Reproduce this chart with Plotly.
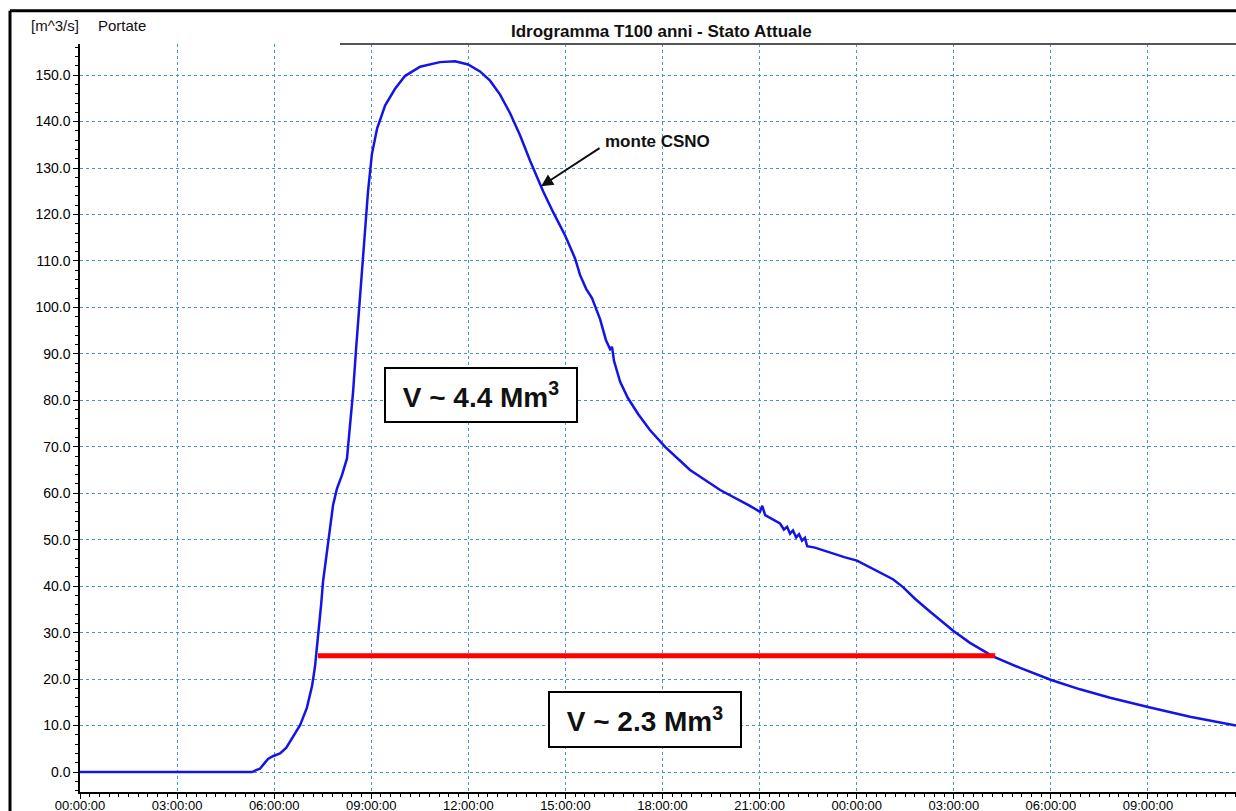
import plotly.graph_objects as go
import pandas as pd

# ---- data (hours since start, discharge m^3/s) ----
hours = [0.00, 5.32, 5.44, 5.56, 5.69, 5.81, 5.96, 6.18, 6.37, 6.55, 6.80, 7.01, 7.17, 7.26,
         7.32, 7.39, 7.45, 7.51, 7.60, 7.70, 7.82, 7.94, 8.10, 8.25, 8.34, 8.44, 8.53, 8.65,
         8.78, 8.90, 9.02, 9.18, 9.43, 9.73, 10.04, 10.51, 11.12, 11.59, 11.99, 12.36, 12.67,
         12.98, 13.29, 13.60, 13.91, 14.31, 14.62, 14.99, 15.30, 15.45, 15.64, 15.82, 16.07,
         16.25, 16.38, 16.44, 16.50, 16.69, 16.93, 17.25, 17.61, 18.08, 18.85, 19.78, 20.70,
         21.01, 21.08, 21.17, 21.63, 21.75, 21.85, 21.94, 22.03, 22.13, 22.22, 22.31, 22.40,
         22.47, 22.71, 23.18, 23.64, 24.01, 24.35, 24.72, 25.12, 25.43, 25.80, 26.27, 26.98,
         27.50, 28.21, 29.05, 30.01, 30.90, 31.83, 33.00, 34.30, 35.72]
flow = [0.0, 0.0, 0.4, 0.7, 1.8, 2.8, 3.4, 4.0, 5.2, 7.2, 10.1, 13.8, 18.5, 22.6,
        26.5, 31.0, 36.0, 41.0, 46.0, 51.0, 57.5, 61.0, 64.0, 67.5, 74.0, 82.0, 91.0, 102.0,
        114.0, 125.0, 133.0, 138.5, 143.5, 147.0, 149.8, 151.8, 152.8, 153.0, 152.3, 150.8, 148.8,
        145.8, 141.8, 137.0, 131.5, 125.0, 120.5, 115.5, 110.5, 107.0, 104.0, 102.0, 97.5,
        93.0, 91.0, 91.5, 88.5, 84.0, 80.5, 77.0, 73.6, 70.0, 65.0, 60.7, 57.3,
        56.0, 57.3, 55.3, 53.5, 52.2, 52.8, 51.3, 52.0, 50.5, 51.2, 49.8, 50.4,
        48.6, 48.3, 47.2, 46.2, 45.5, 44.3, 43.0, 41.5, 39.8, 37.3, 34.5, 30.4,
        27.8, 24.9, 22.4, 19.8, 17.8, 16.0, 14.0, 11.9, 10.0]

threshold_hours = [7.35, 28.28]
threshold_flow = [25.0, 25.0]

BASE = pd.Timestamp("2000-01-01 00:00:00")


def to_time(hs):
    return [(BASE + pd.Timedelta(hours=h)).strftime("%Y-%m-%d %H:%M:%S") for h in hs]


FONT = "Liberation Sans, Arial, sans-serif"

fig = go.Figure()
fig.add_trace(go.Scatter(x=to_time(hours), y=flow, mode="lines",
                         line=dict(color="#1414e6", width=2.5), showlegend=False,
                         hoverinfo="skip"))
fig.add_trace(go.Scatter(x=to_time(threshold_hours), y=threshold_flow, mode="lines",
                         line=dict(color="#ff0000", width=5), showlegend=False,
                         hoverinfo="skip"))

grid_col = "#4a90dc"
fig.update_xaxes(
    type="date",
    range=to_time([0, 35.72]),
    tickformat="%H:%M:%S",
    tick0=to_time([0])[0],
    dtick=3 * 3600 * 1000,
    showgrid=True, gridcolor=grid_col, griddash="dot", gridwidth=1,
    showline=True, linecolor="black", linewidth=1.5,
    ticks="outside", ticklen=5, tickcolor="black", tickwidth=1,
    ticklabelstandoff=-4,
    minor=dict(dtick=18 * 60 * 1000, ticks="outside", ticklen=3, tickcolor="black",
               showgrid=False),
    tickfont=dict(family=FONT, size=13, color="#000000"),
    zeroline=False, automargin=False,
)
fig.update_yaxes(
    range=[-4.3, 156.7],
    tick0=0, dtick=10, tickformat=".1f",
    showgrid=True, gridcolor=grid_col, griddash="dot", gridwidth=1,
    showline=True, linecolor="black", linewidth=1.5,
    ticks="outside", ticklen=5, tickcolor="black", tickwidth=1,
    minor=dict(dtick=2, ticks="outside", ticklen=3, tickcolor="black", showgrid=False),
    tickfont=dict(family=FONT, size=14, color="#000000"),
    zeroline=False, automargin=False,
)

W, H = 1236, 811
L, R, T, B = 80, 0, 44, 19
PW, PH = W - L - R, H - T - B


def px(xp):
    return (xp - L) / PW


def py(yp):
    return (H - B - yp) / PH


annotations = [
    dict(text="<b>Idrogramma T100 anni - Stato Attuale</b>", x=px(661), y=py(31),
         xref="paper", yref="paper", showarrow=False, xanchor="center", yanchor="middle",
         font=dict(family=FONT, size=17, color="#111111")),
    dict(text="[m^3/s]", x=px(29), y=py(26), xref="paper", yref="paper", showarrow=False,
         xanchor="left", yanchor="middle", font=dict(family=FONT, size=15, color="#111111")),
    dict(text="Portate", x=px(96), y=py(26), xref="paper", yref="paper", showarrow=False,
         xanchor="left", yanchor="middle", font=dict(family=FONT, size=15, color="#111111")),
    dict(text="<b>monte CSNO</b>", x=to_time([16.16])[0], y=135.8, xref="x", yref="y",
         showarrow=False, xanchor="left", yanchor="middle",
         font=dict(family=FONT, size=17, color="#111111")),
    dict(text="", x=to_time([14.25])[0], y=126.1, xref="x", yref="y",
         ax=to_time([16.10])[0], ay=134.5, axref="x", ayref="y",
         showarrow=True, arrowhead=2, arrowsize=1.2, arrowwidth=2, arrowcolor="#111111"),
    dict(text="<b>V ~ 4.4 Mm<sup>3</sup></b>", x=to_time([12.39])[0], y=81.1, xref="x",
         yref="y", showarrow=False, xanchor="center", yanchor="middle",
         font=dict(family=FONT, size=28, color="#111111"),
         bgcolor="white", bordercolor="black", borderwidth=2, borderpad=2,
         width=186, height=48),
    dict(text="<b>V ~ 2.3 Mm<sup>3</sup></b>", x=to_time([17.46])[0], y=11.2, xref="x",
         yref="y", showarrow=False, xanchor="center", yanchor="middle",
         font=dict(family=FONT, size=28, color="#111111"),
         bgcolor="white", bordercolor="black", borderwidth=2, borderpad=2,
         width=186, height=49),
]

shapes = [
    # outer frame
    dict(type="line", xref="paper", yref="paper", x0=px(10), x1=px(1240), y0=py(10.7),
         y1=py(10.7), line=dict(color="black", width=3)),
    dict(type="line", xref="paper", yref="paper", x0=px(10), x1=px(10), y0=py(10.7),
         y1=py(815), line=dict(color="black", width=3)),
    # title separator
    dict(type="line", xref="paper", yref="paper", x0=px(340), x1=px(1240), y0=py(44),
         y1=py(44), line=dict(color="#555555", width=2)),
]

fig.update_layout(
    width=W, height=H,
    margin=dict(l=L, r=R, t=T, b=B),
    paper_bgcolor="white", plot_bgcolor="white",
    annotations=annotations, shapes=shapes,
    showlegend=False,
)

fig.write_html(
    "out.html",
    config={"displayModeBar": False},
    post_script="document.body.style.margin='0';document.body.style.overflow='hidden';",
)
